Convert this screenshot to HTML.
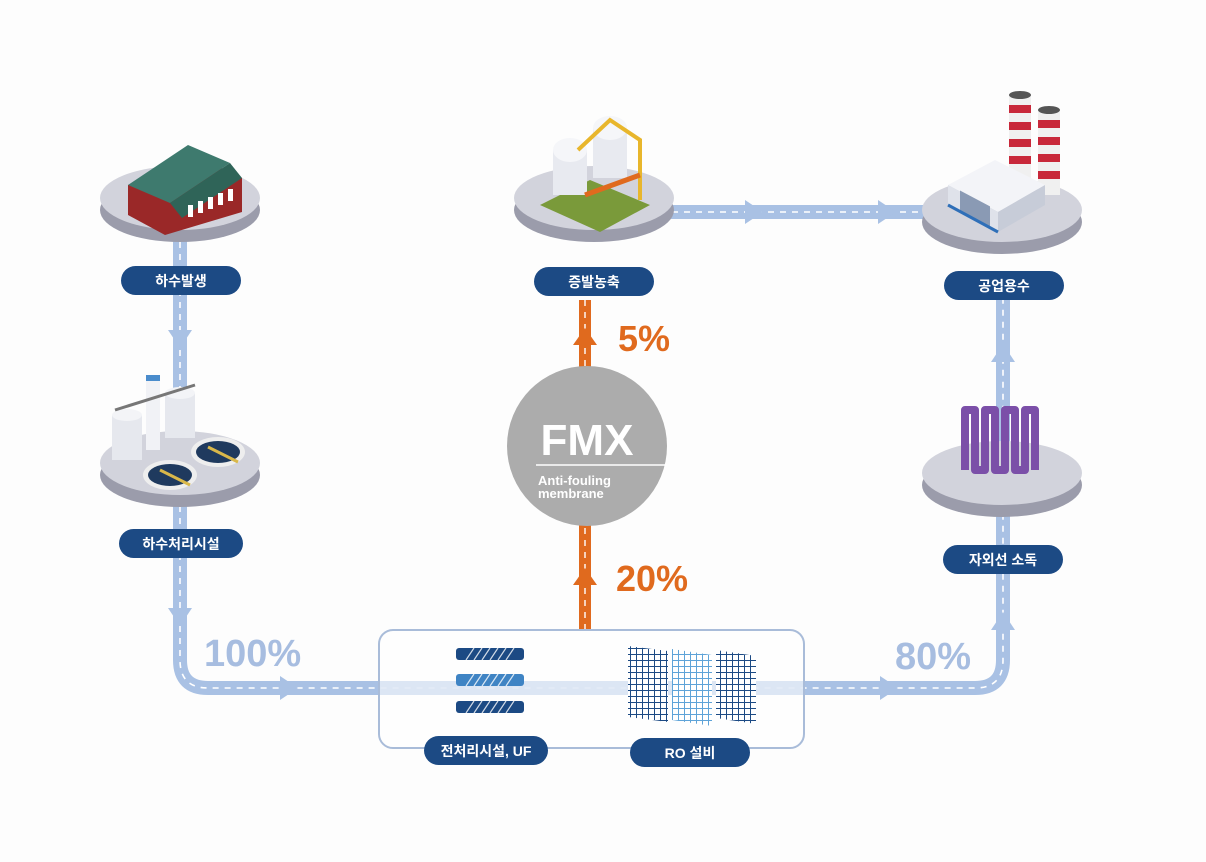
<!DOCTYPE html>
<html><head><meta charset="utf-8"><style>
html,body{margin:0;padding:0;background:#fff}
svg{display:block}
text{font-family:"Liberation Sans","Noto Sans CJK KR",sans-serif;font-weight:bold}
</style></head><body>
<svg width="1206" height="862" viewBox="0 0 1206 862" xmlns="http://www.w3.org/2000/svg">
<rect width="1206" height="862" fill="#fdfdfd"/>
<g fill="none" stroke="#a9c1e4" stroke-width="14" stroke-linejoin="round">
<path d="M180 230 V660 Q180 688 208 688 H975 Q1003 688 1003 660 V290"/>
<path d="M660 212 H925"/>
</g>
<g fill="none" stroke="#fff" stroke-width="1.6" stroke-dasharray="6 6">
<path d="M180 230 V660 Q180 688 208 688 H975 Q1003 688 1003 660 V290"/>
<path d="M660 212 H925"/>
</g>
<g fill="#a9c1e4">
<polygon points="168,330 192,330 180,348"/>
<polygon points="168,608 192,608 180,626"/>
<polygon points="280,676 280,700 298,688"/>
<polygon points="880,676 880,700 898,688"/>
<polygon points="991,630 1015,630 1003,612"/>
<polygon points="991,362 1015,362 1003,344"/>
<polygon points="745,200 745,224 763,212"/>
<polygon points="878,200 878,224 896,212"/>
</g>
<rect x="579" y="300" width="12" height="330" fill="#e06a1e"/>
<line x1="585" y1="300" x2="585" y2="630" stroke="#fff" stroke-width="1.4" stroke-dasharray="6 6"/>
<polygon points="573,345 597,345 585,328" fill="#e06a1e"/>
<polygon points="573,585 597,585 585,568" fill="#e06a1e"/>
<circle cx="587" cy="446" r="80" fill="#acacac"/>
<text x="587" y="455" text-anchor="middle" font-size="44" fill="#fff">FMX</text>
<line x1="536" y1="465" x2="667" y2="465" stroke="#fff" stroke-width="1.5"/>
<text x="538" y="485" font-size="13" fill="#fff" font-weight="normal">Anti-fouling</text>
<text x="538" y="498" font-size="13" fill="#fff" font-weight="normal">membrane</text>
<text x="204" y="666" font-size="38" fill="#a7bde0">100%</text>
<text x="895" y="669" font-size="38" fill="#a7bde0">80%</text>
<text x="618" y="351" font-size="36" fill="#e06a1e">5%</text>
<text x="616" y="591" font-size="36" fill="#e06a1e">20%</text>
<rect x="379" y="630" width="425" height="118" rx="14" fill="rgba(255,255,255,0.6)" stroke="#a9bcd9" stroke-width="2"/>
<rect x="380" y="682" width="423" height="12" fill="#dce6f4" opacity="0.8"/>
<g>
<rect x="456" y="648" width="68" height="12" rx="3" fill="#1c4a84"/>
<rect x="456" y="674" width="68" height="12" rx="3" fill="#3f84c4"/>
<rect x="456" y="701" width="68" height="12" rx="3" fill="#1c4a84"/>
<g stroke="#fff" stroke-width="1.2" opacity="0.8">
<path d="M466 660l8-12M474 660l8-12M482 660l8-12M490 660l8-12M498 660l8-12M506 660l8-12"/>
<path d="M466 686l8-12M474 686l8-12M482 686l8-12M490 686l8-12M498 686l8-12M506 686l8-12"/>
<path d="M466 713l8-12M474 713l8-12M482 713l8-12M490 713l8-12M498 713l8-12M506 713l8-12"/>
</g>
</g>
<defs>
<pattern id="g1" width="6" height="6" patternUnits="userSpaceOnUse"><rect width="6" height="6" fill="#fff"/><path d="M0 0H6M0 0V6" stroke="#1c4a84" stroke-width="2"/></pattern>
<pattern id="g2" width="6" height="6" patternUnits="userSpaceOnUse"><rect width="6" height="6" fill="#fff"/><path d="M0 0H6M0 0V6" stroke="#5ea3d8" stroke-width="2"/></pattern>
</defs>
<polygon points="628,646 668,651 668,722 628,717" fill="url(#g1)"/>
<polygon points="672,649 712,655 712,726 672,720" fill="url(#g2)"/>
<polygon points="716,650 756,656 756,724 716,718" fill="url(#g1)"/>
<g>
<ellipse cx="180" cy="210" rx="80" ry="32" fill="#9b9cab"/>
<ellipse cx="180" cy="198" rx="80" ry="32" fill="#d2d3dc"/>
<ellipse cx="180" cy="475" rx="80" ry="32" fill="#9b9cab"/>
<ellipse cx="180" cy="463" rx="80" ry="32" fill="#d2d3dc"/>
<ellipse cx="594" cy="210" rx="80" ry="32" fill="#9b9cab"/>
<ellipse cx="594" cy="198" rx="80" ry="32" fill="#d2d3dc"/>
<ellipse cx="1002" cy="222" rx="80" ry="32" fill="#9b9cab"/>
<ellipse cx="1002" cy="210" rx="80" ry="32" fill="#d2d3dc"/>
<ellipse cx="1002" cy="485" rx="80" ry="32" fill="#9b9cab"/>
<ellipse cx="1002" cy="473" rx="80" ry="32" fill="#d2d3dc"/>
</g>
<polygon points="128,185 205,160 242,178 242,212 165,235 128,215" fill="#9a2828"/>
<polygon points="128,185 188,145 230,163 170,203" fill="#3e7a6e"/>
<polygon points="170,203 230,163 242,178 182,218" fill="#2f6458"/>
<g fill="#fff"><rect x="188" y="205" width="5" height="12"/><rect x="198" y="201" width="5" height="12"/><rect x="208" y="197" width="5" height="12"/><rect x="218" y="193" width="5" height="12"/><rect x="228" y="189" width="5" height="12"/></g>
<rect x="112" y="415" width="30" height="45" fill="#e6e8ee"/><ellipse cx="127" cy="415" rx="15" ry="6" fill="#f3f4f7"/>
<rect x="165" y="393" width="30" height="45" fill="#e6e8ee"/><ellipse cx="180" cy="393" rx="15" ry="6" fill="#f3f4f7"/>
<rect x="146" y="375" width="14" height="75" fill="#f1f2f6"/><rect x="146" y="375" width="14" height="6" fill="#4a8ccc"/>
<line x1="115" y1="410" x2="195" y2="385" stroke="#777" stroke-width="3"/>
<ellipse cx="170" cy="475" rx="27" ry="15" fill="#eee"/><ellipse cx="170" cy="475" rx="22" ry="11" fill="#1f3a5e"/>
<ellipse cx="218" cy="452" rx="27" ry="15" fill="#eee"/><ellipse cx="218" cy="452" rx="22" ry="11" fill="#1f3a5e"/>
<line x1="160" y1="470" x2="190" y2="485" stroke="#d9b84a" stroke-width="3"/>
<line x1="208" y1="447" x2="238" y2="462" stroke="#d9b84a" stroke-width="3"/>
<polygon points="540,205 590,180 650,205 600,232" fill="#7a9a3a"/>
<rect x="553" y="150" width="34" height="45" fill="#e8eaf0"/><ellipse cx="570" cy="150" rx="17" ry="12" fill="#f5f6f9"/>
<rect x="593" y="128" width="34" height="50" fill="#e8eaf0"/><ellipse cx="610" cy="128" rx="17" ry="12" fill="#f5f6f9"/>
<path d="M578 150 L610 120 L640 140 L640 200" fill="none" stroke="#e8b62c" stroke-width="4"/>
<path d="M585 195 L640 175" stroke="#e06a1e" stroke-width="5"/>
<rect x="1009" y="95" width="22" height="85" fill="#f0f0f0"/>
<g fill="#c8283a"><rect x="1009" y="105" width="22" height="8"/><rect x="1009" y="122" width="22" height="8"/><rect x="1009" y="139" width="22" height="8"/><rect x="1009" y="156" width="22" height="8"/></g>
<ellipse cx="1020" cy="95" rx="11" ry="4" fill="#555"/>
<rect x="1038" y="110" width="22" height="85" fill="#f0f0f0"/>
<g fill="#c8283a"><rect x="1038" y="120" width="22" height="8"/><rect x="1038" y="137" width="22" height="8"/><rect x="1038" y="154" width="22" height="8"/><rect x="1038" y="171" width="22" height="8"/></g>
<ellipse cx="1049" cy="110" rx="11" ry="4" fill="#555"/>
<polygon points="948,185 995,160 1045,185 998,212" fill="#f3f4f8"/>
<polygon points="948,185 998,212 998,232 948,205" fill="#dfe2ea"/>
<polygon points="998,212 1045,185 1045,205 998,232" fill="#c7ccd8"/>
<rect x="960" y="190" width="30" height="22" fill="#8a9ab4" transform="skewY(28) translate(0,-510)"/>
<line x1="948" y1="205" x2="998" y2="232" stroke="#2f6fb8" stroke-width="3"/>
<path d="M965 470 V410 h10 V470 h10 V410 h10 V470 h10 V410 h10 V470 h10 V410 h10 V470" fill="none" stroke="#7b4fa8" stroke-width="8" stroke-linejoin="round"/>
<g fill="#1c4a84">
<rect x="121" y="266" width="120" height="29" rx="14.5"/>
<rect x="119" y="529" width="124" height="29" rx="14.5"/>
<rect x="534" y="267" width="120" height="29" rx="14.5"/>
<rect x="944" y="271" width="120" height="29" rx="14.5"/>
<rect x="943" y="545" width="120" height="29" rx="14.5"/>
<rect x="424" y="736" width="124" height="29" rx="14.5"/>
<rect x="630" y="738" width="120" height="29" rx="14.5"/>
</g>
<g fill="#fff" font-size="14" text-anchor="middle">
<text x="181" y="286">하수발생</text>
<text x="181" y="549">하수처리시설</text>
<text x="594" y="287">증발농축</text>
<text x="1004" y="291">공업용수</text>
<text x="1003" y="565">자외선 소독</text>
<text x="486" y="756">전처리시설, UF</text>
<text x="690" y="758">RO 설비</text>
</g>
</svg>
</body></html>
